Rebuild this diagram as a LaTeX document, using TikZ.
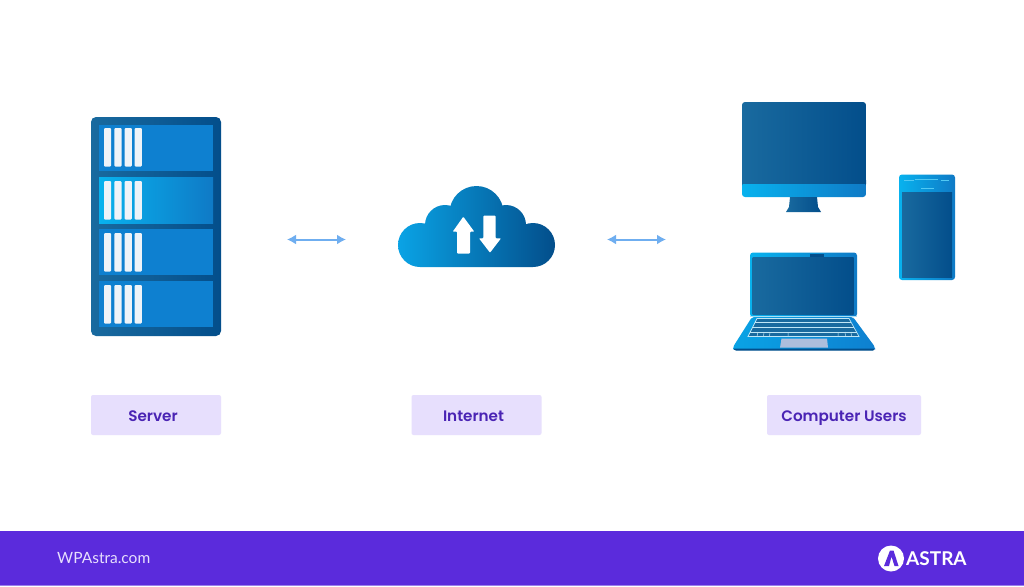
\documentclass[tikz,border=0pt]{standalone}
\usepackage{fontspec}
\setmainfont{Lato}
\newfontfamily\labfont{Poppins SemiBold}
\usepackage{xcolor}
\usetikzlibrary{arrows.meta,positioning}
\definecolor{purplex}{HTML}{5B2BDC}
\definecolor{lilacx}{HTML}{E7DFFD}
\definecolor{inkx}{HTML}{4A24B4}
\definecolor{arrowx}{HTML}{6FAEF0}
\definecolor{deepx}{HTML}{034E8B}
\definecolor{steelx}{HTML}{196A9F}
\definecolor{slotx}{HTML}{0E80D0}
\definecolor{skyx}{HTML}{08B2EE}
\definecolor{midx}{HTML}{0F7AC6}
\definecolor{barx}{HTML}{EEF3F8}
\definecolor{padx}{HTML}{AEBEDC}
\tikzset{
  dbl/.style={{Latex[length=9pt,width=10pt]}-{Latex[length=9pt,width=10pt]},line width=2pt,arrowx},
  lab/.style={fill=lilacx,rounded corners=2pt,minimum height=40pt,inner sep=0pt},
  labtxt/.style={text=inkx,font=\labfont\fontsize{15.2}{18}\selectfont,inner sep=0pt,anchor=base},
  dark/.style={left color=steelx,right color=deepx},
  light/.style={left color=skyx,right color=midx}
}
\newcommand{\srvbars}[1]{%
  \foreach \bx in {104,114.3,124.6,134.6}{\fill[barx,rounded corners=1pt] (\bx,#1) rectangle (\bx+7.2,#1+38.5);}}
\begin{document}
\begin{tikzpicture}[x=1pt,y=-1pt]
\useasboundingbox (0,0) rectangle (1024,586);
\fill[white] (0,0) rectangle (1024,586);
% server
\path[dark,rounded corners=5pt] (91,117) rectangle (221,336);
\foreach \ry in {125,229,281}{\fill[slotx] (99,\ry) rectangle (213,\ry+46);}
\path[left color=skyx,right color=midx] (99,177) rectangle (213,223);
\foreach \ry in {128,181,233,285}{\srvbars{\ry}}
% cloud
\path[left color=skyx!70!slotx,right color=deepx]
  (420,245) circle (22) (445,225) circle (20) (476.5,213) circle (27)
  (506,225) circle (20) (533,245) circle (22)
  (425,232)--(530,232)--(533,267)--(420,267)--cycle;
\fill[white,rounded corners=0.8pt] (457,253.5)--(457,231.7)--(452.7,231.7)--(463.3,216.7)--(474.3,231.7)--(470,231.7)--(470,253.5)--cycle;
\fill[white,rounded corners=0.8pt] (483.3,215.7)--(495.7,215.7)--(495.7,238.3)--(501,238.3)--(490,252.7)--(479,238.3)--(483.3,238.3)--cycle;
% monitor
\path[left color=steelx,right color=deepx,rounded corners=3pt] (742,102) rectangle (866,190);
\path[light,rounded corners=3pt] (742,183) rectangle (866,197);
\path[left color=steelx,right color=deepx] (742,180) rectangle (866,183);
\path[dark] (790,197)--(817,197)--(818,207)--(821,212)--(786,212)--(789,207)--cycle;
% phone
\path[light,rounded corners=3pt] (899,174.5) rectangle (955,280);
\path[dark] (902,192.5) rectangle (952,277);
\draw[white!30!skyx,line width=0.4pt] (904,180)--(914,180) (915,179)--(938,179) (941,180)--(949,180);
\draw[white!30!skyx,line width=0.6pt] (921,188)--(934,188);
% laptop
\path[left color=skyx!70!slotx,right color=slotx,rounded corners=2pt] (733,347)--(752,317)--(853,317)--(875,347)--(875,350)--(733,350)--cycle;
\fill[deepx,rounded corners=1pt] (733,348.5)--(875,348.5)--(874,350.5)--(735,350.5)--cycle;
\path[light,rounded corners=3pt] (750,252.5) rectangle (857,317);
\path[dark] (752.7,257.5) rectangle (853.5,314);
\fill[deepx] (810,253.5) rectangle (824,256.8);
\fill[barx!70!skyx] (750,315.5) rectangle (857,317);
\fill[steelx,draw=barx!80!skyx,line width=0.7pt] (757,318.5)--(849,318.5)--(859,336.5)--(748,336.5)--cycle;
\draw[barx!80!skyx,line width=0.6pt] (755,322.5)--(851,322.5) (752.5,327.5)--(854,327.5) (750,332)--(856.5,332);
\draw[barx!80!skyx,line width=0.5pt] (758,332)--(757,336.5) (764,332)--(763.5,336.5) (770,332)--(769.5,336.5) (788,332)--(788,336.5) (838,332)--(838,336.5) (845,332)--(845.5,336.5) (851,332)--(851.5,336.5);
\fill[padx] (781.5,338.5)--(827,338.5)--(828,347.7)--(780,347.7)--cycle;
% arrows
\coordinate (srvport) at (287,239.5);
\coordinate (cloudin) at (346,239.5);
\coordinate (cloudout) at (607,239.5);
\coordinate (usrport) at (666,239.5);
\draw[dbl] (srvport)--(cloudin);
\draw[dbl] (cloudout)--(usrport);
% labels
\node[lab,minimum width=130pt] (srvlab) at (156,415) {};
\node[lab,minimum width=130pt] (netlab) at (476.5,415) {};
\node[lab,minimum width=154pt] (usrlab) at (844,415) {};
\node[labtxt] (srvtxt) at (153,421) {Server};
\node[labtxt] (nettxt) at (473.5,421) {Internet};
\node[labtxt] (usrtxt) at (844,421) {Computer Users};
% footer
\fill[purplex] (0,531) rectangle (1024,586);
\fill[purplex!60!white] (0,585) rectangle (1024,586);
\node[font=\fontsize{15.5}{18}\selectfont,text=lilacx,anchor=west,inner sep=0pt] (site) at (57,558.5) {WPAstra.com};
\fill[white] (891,558.5) circle (13);
\fill[purplex] (884,566)--(890,550.5)--(893.5,550.5)--(898.5,566)--(894.5,566)--(891.5,556.5)--(889,566)--cycle;
\node[font=\bfseries\fontsize{19}{20}\selectfont,text=white,anchor=west,inner sep=0pt] (brand) at (906,559) {ASTRA};
\end{tikzpicture}
\end{document}
